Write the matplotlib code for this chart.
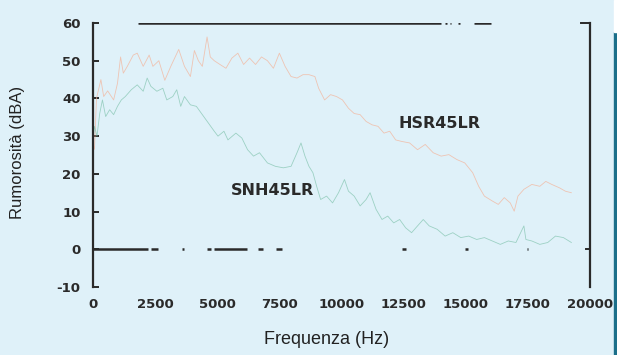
import matplotlib
matplotlib.use("Agg")
import matplotlib.pyplot as plt
from matplotlib.patches import Rectangle

# ---- data ----
hsr_freq = [0, 60, 140, 318, 430, 590, 830, 985, 1110, 1220, 1380, 1620, 1780, 2020, 2260, 2410,
            2650, 2890, 3130, 3450, 3680, 3920, 4080, 4240, 4400, 4590, 4720, 4880, 5110, 5350,
            5590, 5830, 6060, 6300, 6540, 6780, 7020, 7260, 7500, 7730, 7970, 8210, 8450, 8690,
            8930, 9080, 9320, 9560, 9800, 10040, 10280, 10510, 10750, 10990, 11230, 11470, 11710,
            11940, 12180, 12420, 12740, 13060, 13370, 13690, 14010, 14320, 14640, 14960, 15280,
            15520, 15750, 16070, 16310, 16550, 16790, 16950, 17100, 17340, 17660, 17980, 18220,
            18460, 18770, 19010, 19250]
hsr_db = [28, 26.5, 40, 45, 40.5, 42, 39.6, 44, 51, 46.7, 48.5, 51.5, 52, 48.5, 51.5, 48.5,
          50, 44.8, 48.5, 53, 48.5, 45.8, 52.7, 50, 48.5, 56.3, 51, 50, 49, 48,
          50.7, 52, 49, 50.7, 49, 51, 50, 48, 52, 48.5, 45.8, 45.4, 46.3, 46.3,
          45.8, 42.7, 39.6, 41, 40.5, 39.6, 37.4, 36, 35.7, 33.9, 33, 32.6, 30.8,
          31.3, 29, 28.6, 28.2, 26.4, 27.8, 25.6, 24.7, 25.1, 23.8, 22.9, 20.3,
          16.7, 14.1, 12.8, 11.9, 13.7, 12.3, 10.1, 14.1, 15.9, 17.2, 16.7, 18,
          17.2, 16.3, 15.4, 15]

snh_freq = [0, 60, 160, 270, 380, 510, 670, 830, 985, 1140, 1300, 1540, 1780, 2020, 2180, 2330,
            2570, 2810, 2970, 3210, 3370, 3530, 3680, 3920, 4160, 4400, 4640, 4880, 5030, 5270,
            5430, 5750, 5990, 6220, 6460, 6700, 7020, 7340, 7660, 7970, 8210, 8370, 8530, 8690,
            8850, 9000, 9160, 9400, 9640, 9880, 10120, 10280, 10510, 10750, 10990, 11150, 11390,
            11630, 11860, 12100, 12340, 12580, 12820, 13060, 13290, 13530, 13850, 14170, 14480,
            14800, 15120, 15440, 15750, 16070, 16390, 16710, 17020, 17340, 17420, 17660, 17980,
            18300, 18610, 18930, 19250]
snh_db = [29, 32.6, 30, 36, 39.6, 35.2, 37, 35.7, 37.9, 39.6, 40.5, 42.3, 43.6, 41.9, 45.4, 43.2,
          41.9, 42.7, 39.6, 40.5, 42.3, 37.9, 40.5, 38.3, 37.9, 35.7, 33.5, 31.3, 30, 31.3,
          29, 30.8, 29.5, 26.4, 24.7, 25.6, 22.9, 22, 21.6, 22, 25.6, 28.2, 24.7, 22,
          20.3, 16.7, 13.2, 14.1, 12.3, 15, 18.5, 15.4, 14.1, 11.5, 13.2, 15, 10.6,
          7.9, 8.8, 7, 7.9, 5.7, 4.4, 6.2, 7.9, 6.2, 5.3, 3.5, 4.4,
          3.1, 3.5, 2.6, 3.1, 2.2, 1.3, 2.2, 1.8, 6.2, 2.6, 2.2, 1.3,
          1.8, 3.5, 3.1, 1.8]

label_hsr = "HSR45LR"
label_snh = "SNH45LR"
x_ticks = [0, 2500, 5000, 7500, 10000, 12500, 15000, 17500, 20000]
y_ticks = [-10, 0, 10, 20, 30, 40, 50, 60]

# broken reference lines at 60 dB and 0 dB (start, end in Hz)
top_segments = [(1800, 14000), (14150, 14250), (14350, 14400), (14700, 14750), (15350, 16000)]
zero_segments = [(0, 2200), (2350, 2600), (3600, 3650), (4600, 4750), (4850, 6200),
                 (6650, 6850), (7350, 7600), (12450, 12600), (14950, 15100), (17450, 17520)]

bg = "#dff1f9"
dark = "#2a2a2a"

fig = plt.figure(figsize=(6.17, 3.55), dpi=100, facecolor=bg)
ax = fig.add_axes([93 / 617, 1 - 287 / 355, (590 - 93) / 617, (287 - 23) / 355])
ax.set_facecolor(bg)

ax.plot(hsr_freq, hsr_db, color="#f3b59c", lw=0.6, alpha=0.75)
ax.plot(snh_freq, snh_db, color="#86c6b2", lw=0.6, alpha=0.75)

for s, e in top_segments:
    ax.plot([s, e], [60, 60], color=dark, lw=1.8, solid_capstyle="butt")
for s, e in zero_segments:
    ax.plot([s, e], [0, 0], color=dark, lw=1.8, solid_capstyle="butt")

ax.set_xlim(0, 20000)
ax.set_ylim(-10, 60)
ax.set_xticks(x_ticks)
ax.set_xticklabels([str(v) for v in x_ticks])
ax.set_yticks(y_ticks)
ax.set_yticklabels([str(v) for v in y_ticks])

for side in ("top", "bottom"):
    ax.spines[side].set_visible(False)
for side in ("left", "right"):
    ax.spines[side].set_color(dark)
    ax.spines[side].set_linewidth(1.6)

ax.tick_params(axis="y", direction="in", length=4, width=1.4, color=dark, pad=9,
               labelsize=9.5, labelcolor=dark)
ax.tick_params(axis="x", length=0, pad=8, labelsize=9.5, labelcolor=dark)
for lab in ax.get_xticklabels() + ax.get_yticklabels():
    lab.set_fontweight("bold")
    lab.set_family("DejaVu Sans")

# small hooks on the right spine (at 60 and 0)
ax.plot([0.982, 1.0], [1.0, 1.0], transform=ax.transAxes, color=dark, lw=1.4, clip_on=False)
ax.plot([0.992, 1.0], [10 / 70, 10 / 70], transform=ax.transAxes, color=dark, lw=1.4, clip_on=False)

ax.text(13930, 33.3, label_hsr, ha="center", va="center", fontsize=11.5,
        fontweight="bold", color=dark, family="DejaVu Sans")
ax.text(7240, 15.7, label_snh, ha="center", va="center", fontsize=11.5,
        fontweight="bold", color=dark, family="DejaVu Sans")

fig.text(327 / 617, 1 - 340 / 355, "Frequenza (Hz)", ha="center", va="center",
         fontsize=13, color="#222222", family="Liberation Sans")
fig.text(18 / 617, 1 - 152 / 355, "Rumorosità (dBA)", ha="center", va="center",
         rotation=90, fontsize=12, color="#222222", family="Liberation Sans")

# right-edge page decoration
fig.patches.append(Rectangle((614 / 617, 0), 3 / 617, 1 - 32 / 355, transform=fig.transFigure,
                             color="#1b6f8a", zorder=0))
fig.patches.append(Rectangle((614 / 617, 1 - 32 / 355), 3 / 617, 32 / 355,
                             transform=fig.transFigure, color="white", zorder=0))

fig.savefig("out.png", dpi=100, facecolor=bg)
